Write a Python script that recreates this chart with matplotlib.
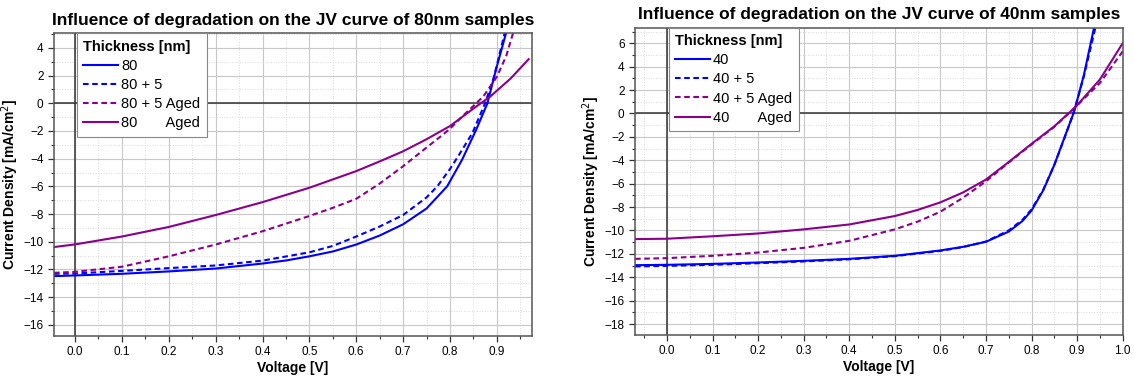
import numpy as np
import matplotlib.pyplot as plt
from matplotlib.ticker import MultipleLocator

plt.rcParams['font.family'] = ['Liberation Sans', 'DejaVu Sans']

# 80nm 样品
v80 = [-0.045, 0.0, 0.1, 0.2, 0.3, 0.4, 0.45, 0.5, 0.55, 0.6, 0.65, 0.7, 0.75, 0.794, 0.826, 0.856, 0.88, 0.898, 0.92]
j80 = [-12.48, -12.43, -12.31, -12.14, -11.93, -11.57, -11.35, -11.05, -10.7, -10.2, -9.55, -8.74, -7.6, -6.0, -4.07, -1.91, 0.0, 2.4, 5.1]

v80_5 = [-0.045, 0.0, 0.1, 0.2, 0.3, 0.4, 0.5, 0.55, 0.6, 0.65, 0.7, 0.75, 0.773, 0.8, 0.818, 0.848, 0.875, 0.894, 0.917]
j80_5 = [-12.31, -12.29, -12.1, -11.9, -11.71, -11.36, -10.76, -10.3, -9.62, -8.9, -8.07, -6.8, -6.0, -4.75, -3.8, -2.15, 0.0, 1.9, 5.1]

v80_5a = [-0.045, 0.0, 0.1, 0.2, 0.3, 0.4, 0.5, 0.55, 0.6, 0.65, 0.7, 0.75, 0.78, 0.8, 0.826, 0.85, 0.871, 0.9, 0.92, 0.935]
j80_5a = [-12.24, -12.17, -11.8, -11.05, -10.2, -9.24, -8.14, -7.55, -6.9, -5.8, -4.55, -3.2, -2.4, -1.85, -0.96, -0.2, 0.48, 1.9, 3.4, 5.1]

v80a = [-0.045, 0.0, 0.1, 0.2, 0.3, 0.4, 0.5, 0.6, 0.65, 0.7, 0.75, 0.8, 0.856, 0.886, 0.93, 0.968]
j80a = [-10.38, -10.19, -9.62, -8.93, -8.07, -7.14, -6.1, -4.9, -4.2, -3.47, -2.6, -1.65, -0.24, 0.48, 1.8, 3.18]

# 40nm 样品
v40 = [-0.07, 0.0, 0.1, 0.2, 0.3, 0.4, 0.5, 0.6, 0.65, 0.7, 0.75, 0.78, 0.8, 0.826, 0.85, 0.87, 0.892, 0.9, 0.915, 0.937]
j40 = [-12.97, -12.94, -12.86, -12.74, -12.6, -12.43, -12.17, -11.71, -11.4, -10.97, -10.1, -9.2, -8.3, -6.55, -4.4, -2.3, 0.0, 1.1, 3.3, 7.3]

v40_5 = [-0.07, 0.0, 0.1, 0.2, 0.3, 0.4, 0.5, 0.6, 0.65, 0.7, 0.75, 0.78, 0.8, 0.826, 0.85, 0.87, 0.892, 0.9, 0.915, 0.94]
j40_5 = [-13.08, -13.03, -12.94, -12.8, -12.65, -12.47, -12.2, -11.75, -11.42, -10.95, -10.0, -9.1, -8.2, -6.5, -4.4, -2.35, 0.0, 1.1, 3.2, 7.3]

v40_5a = [-0.07, 0.0, 0.1, 0.2, 0.3, 0.4, 0.5, 0.55, 0.6, 0.65, 0.7, 0.75, 0.8, 0.85, 0.897, 0.95, 1.0]
j40_5a = [-12.43, -12.37, -12.17, -11.89, -11.49, -10.89, -9.91, -9.25, -8.4, -7.2, -5.8, -4.2, -2.65, -1.15, 0.57, 2.6, 5.3]

v40a = [-0.07, 0.0, 0.1, 0.2, 0.3, 0.4, 0.5, 0.55, 0.6, 0.65, 0.7, 0.75, 0.8, 0.85, 0.897, 0.95, 1.0]
j40a = [-10.74, -10.71, -10.5, -10.26, -9.91, -9.49, -8.77, -8.25, -7.6, -6.75, -5.65, -4.15, -2.6, -1.1, 0.57, 2.9, 6.0]

labels80 = ['80', '80 + 5', '80 + 5 Aged', '80       Aged']
labels40 = ['40', '40 + 5', '40 + 5 Aged', '40       Aged']

blue = '#0000ff'
purple = '#8b008b'
dash = (0, (2.7, 1.7))


def style_axes(ax, xlim, ylim, yticks, title):
    ax.set_xlim(*xlim)
    ax.set_ylim(*ylim)
    ax.set_yticks(yticks)
    ax.xaxis.set_major_locator(MultipleLocator(0.1))
    ax.xaxis.set_minor_locator(MultipleLocator(0.05))
    ax.yaxis.set_minor_locator(MultipleLocator(1))
    ax.xaxis.set_major_formatter(plt.FormatStrFormatter('%.1f'))
    ax.grid(which='major', color='#c8c8c8', lw=0.8)
    ax.grid(which='minor', color='#d8d8d8', lw=0.7, ls=':')
    ax.set_axisbelow(True)
    ax.axhline(0, color='#333333', lw=1.1, zorder=1)
    ax.axvline(0, color='#333333', lw=1.1, zorder=1)
    for s in ax.spines.values():
        s.set_color('#555555')
        s.set_linewidth(1.1)
    ax.tick_params(which='major', direction='out', length=4, width=0.9, labelsize=8.5, colors='#333333')
    ax.tick_params(which='minor', direction='out', length=2, width=0.8, colors='#333333')
    ax.tick_params(labelcolor='black')
    ax.set_xlabel('Voltage [V]', fontsize=10, fontweight='bold', labelpad=2)
    ax.set_ylabel('Current Density [mA/cm$^2$]', fontsize=10, fontweight='bold', labelpad=2)
    ax.set_title(title, fontsize=12.5, fontweight='bold', pad=6)


fig = plt.figure(figsize=(11.34, 3.81), dpi=100)
ax1 = fig.add_axes([0.0476, 0.1181, 0.4215, 0.795])
ax2 = fig.add_axes([0.560, 0.1207, 0.430, 0.8066])

ax1.plot(v80, j80, color=blue, lw=1.5, label=labels80[0])
ax1.plot(v80_5, j80_5, color=blue, lw=1.5, ls=dash, label=labels80[1])
ax1.plot(v80_5a, j80_5a, color=purple, lw=1.5, ls=dash, label=labels80[2])
ax1.plot(v80a, j80a, color=purple, lw=1.5, label=labels80[3])
style_axes(ax1, (-0.045, 0.975), (-16.8, 5.06), range(-16, 5, 2),
           'Influence of degradation on the JV curve of 80nm samples')

ax2.plot(v40, j40, color=blue, lw=1.5, label=labels40[0])
ax2.plot(v40_5, j40_5, color=blue, lw=1.5, ls=dash, label=labels40[1])
ax2.plot(v40_5a, j40_5a, color=purple, lw=1.5, ls=dash, label=labels40[2])
ax2.plot(v40a, j40a, color=purple, lw=1.5, label=labels40[3])
style_axes(ax2, (-0.07, 1.0), (-18.94, 7.33), range(-18, 7, 2),
           'Influence of degradation on the JV curve of 40nm samples')

for ax, x0 in [(ax1, 0.048), (ax2, 0.0687)]:
    leg = ax.legend(title='Thickness [nm]', loc='upper left', bbox_to_anchor=(x0, 1.0),
                    borderaxespad=0, fontsize=10.5, title_fontproperties={'weight': 'bold', 'size': 10.5},
                    fancybox=False, framealpha=1, edgecolor='#888888', handlelength=2.4,
                    handletextpad=0.2, labelspacing=0.35, borderpad=0.45)
    leg.get_frame().set_linewidth(0.8)
    leg._legend_box.align = 'left'

fig.savefig('out.png', dpi=100)
